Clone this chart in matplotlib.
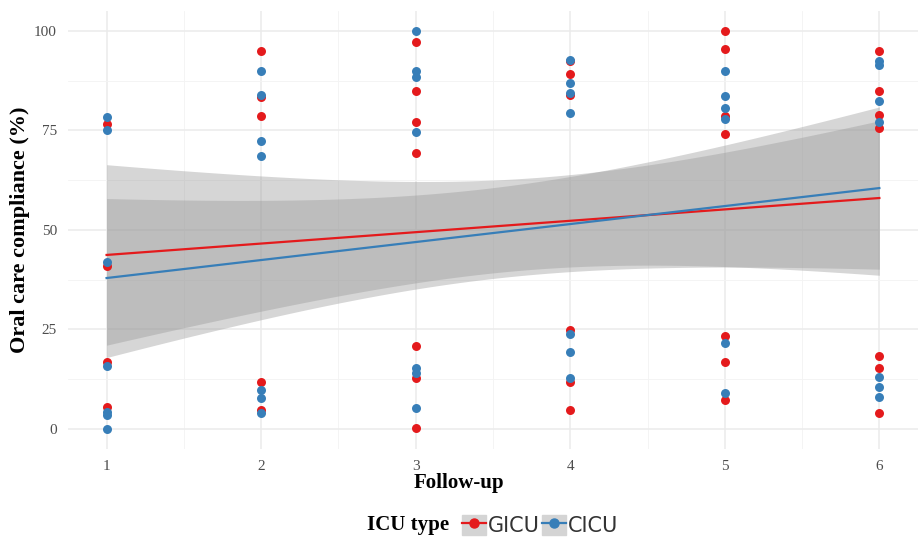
import numpy as np
import matplotlib.pyplot as plt
from matplotlib.lines import Line2D
from matplotlib.patches import Patch

# compliance (%) at each follow-up
followup = [1, 2, 3, 4, 5, 6]
gicu = [[76.6, 40.8, 16.9, 5.4],
        [95, 83.3, 78.6, 11.7, 4.8],
        [97.3, 84.8, 77.2, 69.4, 20.9, 12.7, 0.2],
        [92.3, 89.2, 83.9, 24.9, 11.9, 4.8],
        [100, 95.4, 78.6, 74, 23.4, 16.9, 7.3],
        [95, 84.9, 78.9, 75.5, 18.3, 15.4, 3.9]]
cicu = [[78.3, 75.1, 42, 15.7, 4.3, 3.5, 0],
        [90, 84, 72.4, 68.6, 9.8, 7.7, 3.9],
        [100, 89.8, 88.4, 74.5, 15.2, 14, 5.2],
        [92.7, 86.8, 84.5, 79.3, 23.9, 19.3, 12.7],
        [90, 83.7, 80.6, 77.8, 21.5, 9],
        [92.3, 91.5, 82.4, 77.2, 13, 10.5, 8]]

# linear trend: value at follow-up 1 and 6,
# and half-width of the confidence band in the middle
gicu_fit = [43.7, 58.0]
cicu_fit = [37.9, 60.5]
gicu_band_mid = 11.5
cicu_band_mid = 11.4

red = "#E41A1C"
blue = "#377EB8"


def flatten(groups):
    x = [f for f, vals in zip(followup, groups) for _ in vals]
    y = [v for vals in groups for v in vals]
    return np.array(x, float), np.array(y, float)


def band_shape(x, xs):
    # relative width of a linear-fit confidence band (1 at the mean of x)
    n = len(x)
    sxx = np.sum((x - x.mean()) ** 2)
    return np.sqrt(1 + n * (xs - x.mean()) ** 2 / sxx)


gx, gy = flatten(gicu)
cx, cy = flatten(cicu)

fig = plt.figure(figsize=(9.18, 5.46), dpi=100)
ax = fig.add_axes([0.074, 0.178, 0.926, 0.802])

xs = np.linspace(1, 6, 80)
ends = [followup[0], followup[-1]]
groups = [(gx, gicu_fit, gicu_band_mid, red), (cx, cicu_fit, cicu_band_mid, blue)]
for x, fitv, mid, c in groups:
    fit = np.interp(xs, ends, fitv)
    half = mid * band_shape(x, xs)
    ax.fill_between(xs, fit - half, fit + half, color="0.6", alpha=0.4, lw=0, zorder=2)
for x, fitv, mid, c in groups:
    ax.plot(ends, fitv, color=c, lw=1.6, zorder=3)

ax.scatter(gx, gy, s=42, color=red, zorder=4, lw=0)
ax.scatter(cx, cy, s=42, color=blue, zorder=5, lw=0)

ax.set_xlim(0.75, 6.25)
ax.set_ylim(-5, 105)
ax.set_xticks(followup)
ax.set_yticks([0, 25, 50, 75, 100])
ax.set_xticks(np.arange(1.5, 6, 1), minor=True)
ax.set_yticks(np.arange(12.5, 100, 25), minor=True)
ax.grid(which="major", color="#EBEBEB", lw=1.1)
ax.grid(which="minor", color="#F3F3F3", lw=0.6)
ax.set_axisbelow(True)
for sp in ax.spines.values():
    sp.set_visible(False)
ax.tick_params(which="both", length=0, labelsize=11, labelcolor="#4D4D4D", pad=8)
for lab in ax.get_xticklabels() + ax.get_yticklabels():
    lab.set_family("Liberation Serif")

ax.set_xlabel("Follow-up", family="Liberation Serif", fontweight="bold", fontsize=15, labelpad=0)
ax.set_ylabel("Oral care compliance (%)", family="Liberation Serif", fontweight="bold", fontsize=16, labelpad=3)
ax.xaxis.set_label_coords(0.46, -0.055)

fig.text(0.400, 0.038, "ICU type", family="Liberation Serif", fontweight="bold", fontsize=15, va="center")
handles = [
    (Patch(color="#D4D4D4"), Line2D([], [], color=red, lw=1.6, marker="o", ms=6.5, mec=red)),
    (Patch(color="#D4D4D4"), Line2D([], [], color=blue, lw=1.6, marker="o", ms=6.5, mec=blue)),
]
fig.legend(handles, ["GICU", "CICU"], loc="center left", bbox_to_anchor=(0.483, 0.038),
           ncol=2, frameon=False, fontsize=15, handlelength=1.15, handleheight=1.1,
           handletextpad=0.1, columnspacing=0.1, labelcolor="#333333")

fig.savefig("out.png", dpi=100)
